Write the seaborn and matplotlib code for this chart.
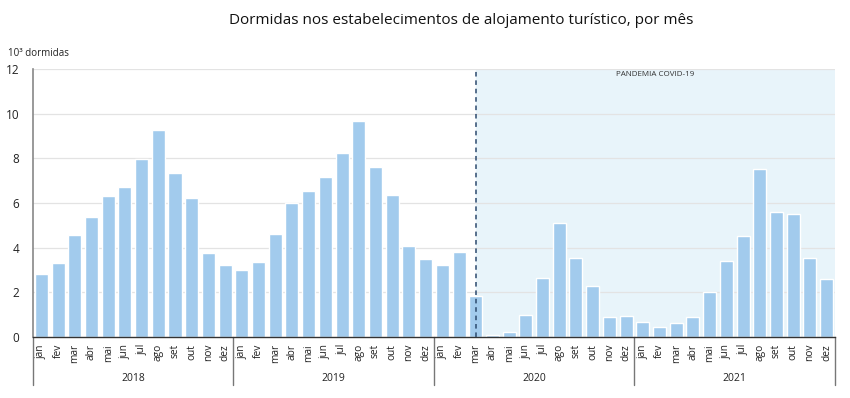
import matplotlib
matplotlib.use('Agg')
import matplotlib.pyplot as plt
import seaborn as sns
import pandas as pd

anos = ["2018", "2019", "2020", "2021"]
meses = ["jan", "fev", "mar", "abr", "mai", "jun", "jul", "ago", "set", "out", "nov", "dez"]

dormidas_2018 = [2.82, 3.31, 4.57, 5.37, 6.31, 6.72, 7.97, 9.27, 7.34, 6.22, 3.76, 3.22]
dormidas_2019 = [3.00, 3.36, 4.61, 6.00, 6.54, 7.16, 8.24, 9.67, 7.61, 6.36, 4.07, 3.49]
dormidas_2020 = [3.22, 3.81, 1.84, 0.09, 0.23, 1.00, 2.64, 5.10, 3.54, 2.28, 0.89, 0.93]
dormidas_2021 = [0.67, 0.43, 0.61, 0.90, 2.01, 3.40, 4.52, 7.52, 5.60, 5.50, 3.54, 2.60]

inicio_pandemia = ("mar", "2020")

df = pd.DataFrame({
    "ano": [a for a in anos for _ in meses],
    "mes": meses * len(anos),
    "valor": dormidas_2018 + dormidas_2019 + dormidas_2020 + dormidas_2021,
})
df["chave"] = df["mes"] + " " + df["ano"]
ordem = list(df["chave"])

sns.set_style("white")
plt.rcParams['font.family'] = ['Open Sans', 'DejaVu Sans']

fig = plt.figure(figsize=(8.5, 3.98), dpi=100)
ax = fig.add_axes([0.0388, 0.153, 0.9435, 0.674])

n = len(df)
i_pand = ordem.index(f"{inicio_pandemia[0]} {inicio_pandemia[1]}")

# area da pandemia
ax.axvspan(i_pand, n - 0.5, color="#e8f4fa", zorder=0)
for y in range(2, 14, 2):
    ax.axhline(y, color="#e3e3e3", lw=0.9, zorder=0.5)

sns.barplot(data=df, x="chave", y="valor", order=ordem, color="#a2cbed",
            saturation=1, width=0.78, ax=ax, zorder=2)

ax.axvline(i_pand, color="#2c4a6e", lw=1.1, ls=(0, (3, 2.5)), zorder=3)
ax.text((i_pand + n - 0.5) / 2, 11.75, "PANDEMIA COVID-19", ha="center", va="center",
        fontsize=5.8, color="#333333")

ax.set_xlim(-0.5, n - 0.5)
ax.set_ylim(0, 12)
ax.set_yticks(range(0, 14, 2))
ax.set_yticklabels([str(v) for v in range(0, 14, 2)], fontsize=8.5, color="#222222")
ax.set_xticks(range(n))
ax.set_xticklabels(df["mes"], rotation=90, fontsize=7.3, color="#222222")
ax.tick_params(axis="both", length=0, pad=5)
ax.tick_params(axis="y", pad=10)
ax.set_xlabel("")
ax.set_ylabel("")

for s in ["top", "right"]:
    ax.spines[s].set_visible(False)
ax.spines["left"].set_color("#888888")
ax.spines["left"].set_linewidth(1.2)
ax.spines["bottom"].set_color("#333333")
ax.spines["bottom"].set_linewidth(1.0)

# separadores e rotulos dos anos
trans = ax.get_xaxis_transform()
for k in range(len(anos) + 1):
    x = k * 12 - 0.5
    ax.plot([x, x], [0, -0.18], transform=trans, color="#777777", lw=1.0, clip_on=False)
for k, a in enumerate(anos):
    ax.text(k * 12 + 5.5, -0.153, a, transform=trans, ha="center", va="center",
            fontsize=7.5, color="#222222")

fig.text(0.543, 0.948, "Dormidas nos estabelecimentos de alojamento turístico, por mês",
         ha="center", va="center", fontsize=11, color="#111111")
fig.text(0.009, 0.866, "10³ dormidas", ha="left", va="center", fontsize=7, color="#222222")

fig.savefig("out.png", dpi=100)
